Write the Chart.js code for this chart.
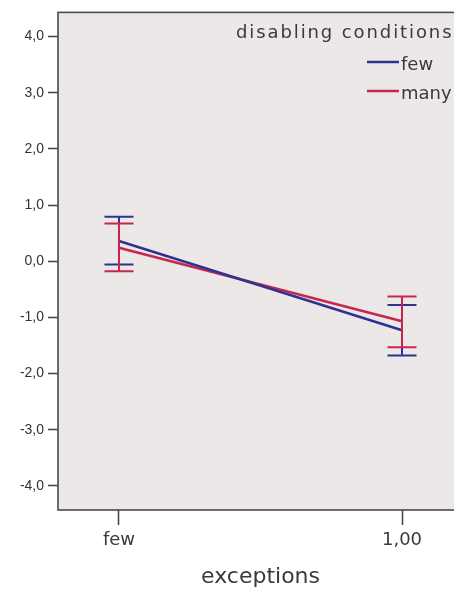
<!DOCTYPE html>
<html>
<head>
<meta charset="utf-8">
<script src="https://cdn.jsdelivr.net/npm/chart.js@4/dist/chart.umd.min.js"></script>
<style>
  html, body { margin: 0; padding: 0; background: #ffffff; overflow: hidden; }
  #wrap { width: 476px; height: 590px; }
</style>
</head>
<body>
<div id="wrap"><canvas id="c" width="476" height="590"></canvas></div>
<script>
// Estimated marginal means with error bars, by exceptions and disabling conditions
const categories = ['few', '1,00'];
const groupLabels = ['few', 'many'];
const meansFew  = [0.36, -1.23];
const lowFew    = [-0.06, -1.68];
const highFew   = [0.79, -0.78];
const meansMany = [0.24, -1.07];
const lowMany   = [-0.18, -1.53];
const highMany  = [0.67, -0.63];
const yTicks = [-4, -3, -2, -1, 0, 1, 2, 3, 4];
const legendTitle = 'disabling conditions';
const xTitle = 'exceptions';

const colors = ['#2e3390', '#c9264e'];
const titleFont = '"DejaVu Sans", sans-serif';
const textColor = '#3a3a3a';

const toPoints = arr => arr.map((v, i) => ({ x: i, y: v }));
const bars = [
  { low: lowFew, high: highFew },
  { low: lowMany, high: highMany }
];

const plotFrame = {
  id: 'plotFrame',
  beforeDatasetsDraw(chart) {
    const { ctx, chartArea: a } = chart;
    ctx.save();
    ctx.fillStyle = '#ebe8e7';
    ctx.fillRect(a.left, a.top, a.right - a.left, a.bottom - a.top);
    ctx.strokeStyle = '#4a4a4a';
    ctx.lineWidth = 1.6;
    ctx.strokeRect(a.left, a.top, a.right - a.left, a.bottom - a.top);
    ctx.restore();
  }
};

const errorBars = {
  id: 'errorBars',
  afterDatasetsDraw(chart) {
    const { ctx, scales: { x, y } } = chart;
    ctx.save();
    ctx.lineWidth = 2;
    bars.forEach((b, d) => {
      ctx.strokeStyle = colors[d];
      b.low.forEach((lo, i) => {
        const px = x.getPixelForValue(i);
        const yl = y.getPixelForValue(lo);
        const yh = y.getPixelForValue(b.high[i]);
        ctx.beginPath();
        ctx.moveTo(px, yl); ctx.lineTo(px, yh);
        ctx.moveTo(px - 14.5, yl); ctx.lineTo(px + 14.5, yl);
        ctx.moveTo(px - 14.5, yh); ctx.lineTo(px + 14.5, yh);
        ctx.stroke();
      });
    });
    ctx.restore();
  }
};

const groupLegend = {
  id: 'groupLegend',
  afterDraw(chart) {
    const { ctx } = chart;
    ctx.save();
    ctx.fillStyle = textColor;
    ctx.textAlign = 'left';
    ctx.textBaseline = 'alphabetic';
    ctx.font = '18px ' + titleFont;
    ctx.letterSpacing = '1.9px';
    ctx.fillText(legendTitle, 236, 38);
    ctx.letterSpacing = '0px';
    ctx.font = '18px ' + titleFont;
    groupLabels.forEach((lab, i) => {
      const ly = 62 + i * 29;
      ctx.strokeStyle = colors[i];
      ctx.lineWidth = 2.5;
      ctx.beginPath();
      ctx.moveTo(367, ly); ctx.lineTo(399, ly);
      ctx.stroke();
      ctx.fillText(lab, 401, ly + 8);
    });
    ctx.restore();
  }
};

new Chart(document.getElementById('c'), {
  type: 'line',
  data: {
    datasets: [
      { label: groupLabels[0], data: toPoints(meansFew), borderColor: colors[0], borderWidth: 2.5, pointRadius: 0, fill: false },
      { label: groupLabels[1], data: toPoints(meansMany), borderColor: colors[1], borderWidth: 2.5, pointRadius: 0, fill: false }
    ]
  },
  plugins: [plotFrame, errorBars, groupLegend],
  options: {
    responsive: false,
    animation: false,
    layout: { padding: { top: 11.5, right: 13, left: 0, bottom: 0 } },
    plugins: { legend: { display: false }, tooltip: { enabled: false } },
    scales: {
      x: {
        type: 'linear',
        position: 'bottom',
        min: -0.2155,
        max: 1.2155,
        afterBuildTicks: s => { s.ticks = categories.map((_, i) => ({ value: i })); },
        afterFit: s => { s.height = 80; },
        ticks: {
          callback: v => categories[v],
          font: { family: titleFont, size: 18 },
          color: textColor,
          padding: 5,
          maxRotation: 0,
          autoSkip: false
        },
        grid: { drawOnChartArea: false, drawTicks: true, tickLength: 15, tickColor: '#4a4a4a', tickWidth: 1.6 },
        border: { display: false },
        title: {
          display: true,
          text: xTitle,
          font: { family: titleFont, size: 22 },
          color: textColor,
          padding: { top: 0, bottom: 0 }
        }
      },
      y: {
        min: -4.43,
        max: 4.43,
        afterBuildTicks: s => { s.ticks = yTicks.map(v => ({ value: v })); },
        afterFit: s => { s.width = 58; },
        ticks: {
          callback: v => v.toFixed(1).replace('.', ','),
          font: { family: '"Liberation Sans", Arial, sans-serif', size: 14 },
          color: '#333333',
          padding: 4
        },
        grid: { drawOnChartArea: false, drawTicks: true, tickLength: 10, tickColor: '#4a4a4a', tickWidth: 1.6 },
        border: { display: false }
      }
    }
  }
});
</script>
</body>
</html>
